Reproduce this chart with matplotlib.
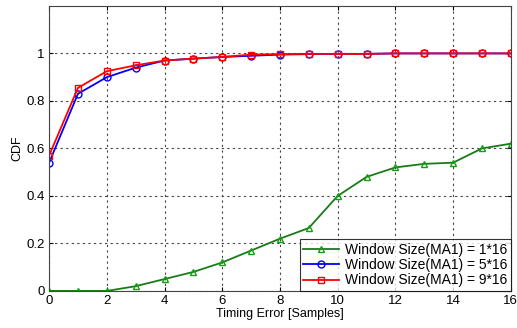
import matplotlib
matplotlib.use('Agg')
import matplotlib.pyplot as plt

plt.rcParams['font.family'] = ['Liberation Sans', 'DejaVu Sans']

x = list(range(17))
cdf_1x16 = [0, 0, 0, 0.02, 0.05, 0.08, 0.12, 0.17, 0.22, 0.265, 0.40, 0.48, 0.52, 0.535, 0.54, 0.60, 0.62]
cdf_5x16 = [0.54, 0.83, 0.90, 0.94, 0.97, 0.978, 0.985, 0.99, 0.995, 0.997, 0.998, 0.998, 1.0, 1.0, 1.0, 1.0, 1.0]
cdf_9x16 = [0.57, 0.855, 0.925, 0.95, 0.97, 0.978, 0.985, 0.995, 0.997, 0.998, 0.998, 0.998, 1.0, 1.0, 1.0, 1.0, 1.0]
labels = ['Window Size(MA1) = 1*16', 'Window Size(MA1) = 5*16', 'Window Size(MA1) = 9*16']

fig = plt.figure(figsize=(5.17, 3.28), dpi=100)
ax = fig.add_axes([0.095, 0.113, 0.893, 0.869])

ax.plot(x, cdf_1x16, color='#1a7a1a', marker='^', ms=5, mfc='none', mec='#11a011', lw=1.3, label=labels[0])
ax.plot(x, cdf_5x16, color='blue', marker='o', ms=5, mfc='none', lw=1.3, label=labels[1])
ax.plot(x, cdf_9x16, color='red', marker='s', ms=5, mfc='none', lw=1.3, label=labels[2])

ax.set_xlim(0, 16)
ax.set_ylim(0, 1.2)
ax.set_xticks(range(0, 17, 2))
ax.set_yticks([0, 0.2, 0.4, 0.6, 0.8, 1])
ax.set_yticklabels(['0', '0.2', '0.4', '0.6', '0.8', '1'])
ax.grid(True, linestyle=(0, (2, 3)), color='#444444', lw=0.8)
ax.tick_params(direction='in', labelsize=9.5, top=True, right=True, length=3, pad=3)
for s in ax.spines.values():
    s.set_color('#444444')
ax.set_xlabel('Timing Error [Samples]', fontsize=9, labelpad=1)
ax.set_ylabel('CDF', fontsize=9, labelpad=2)
leg = ax.legend(loc='lower right', fontsize=10, fancybox=False, edgecolor='black',
                borderpad=0.25, labelspacing=0.1, handlelength=2.6, handletextpad=0.4,
                borderaxespad=0)
leg.get_frame().set_linewidth(0.8)

fig.savefig('out.png', dpi=100)
